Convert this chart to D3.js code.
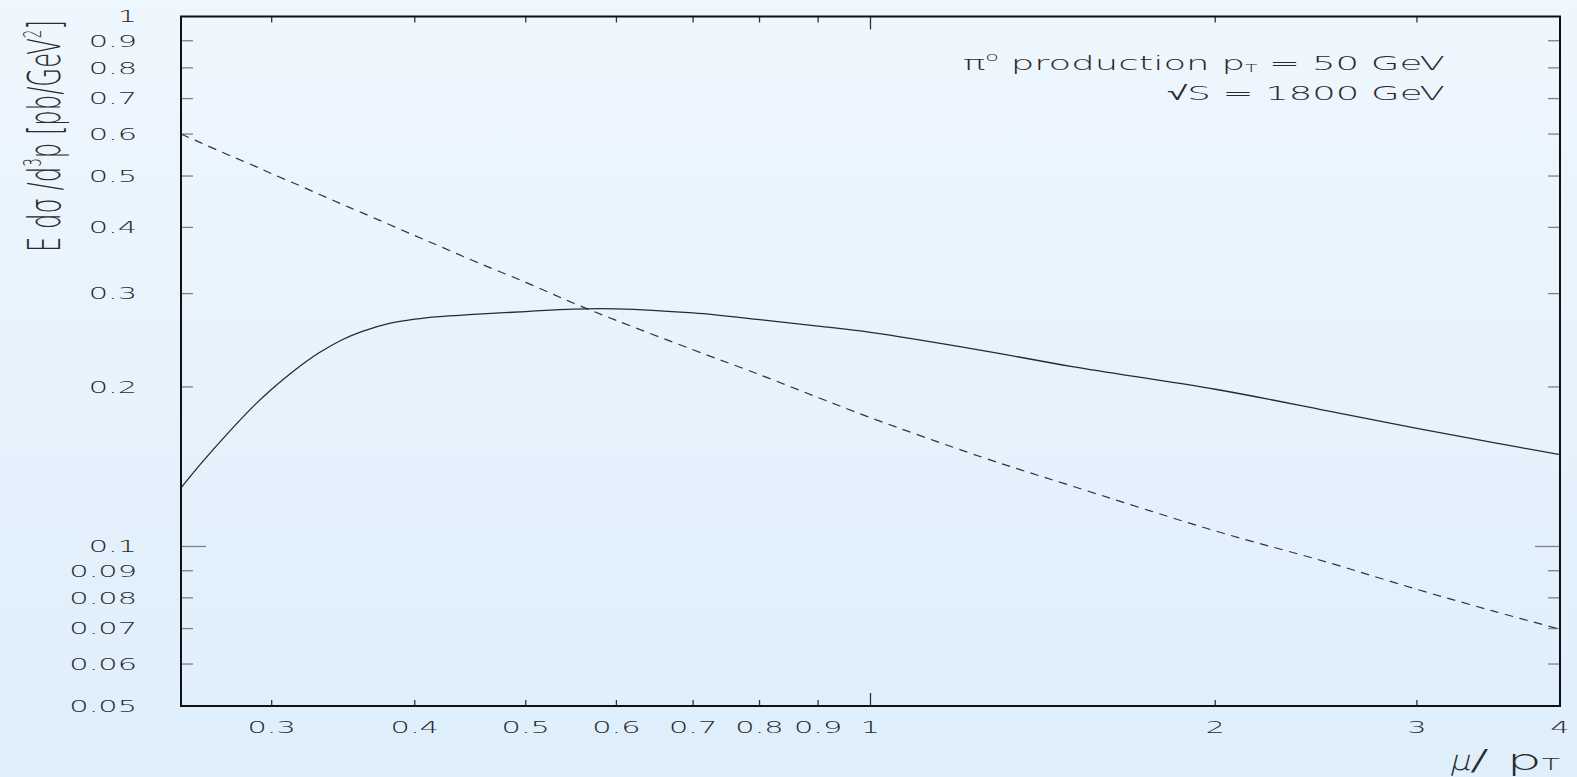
<!DOCTYPE html>
<html>
<head>
<meta charset="utf-8">
<script src="https://cdn.jsdelivr.net/npm/d3@7"></script>
<style>
  html, body { margin: 0; padding: 0; overflow: hidden; background: #e8f3fd; }
  svg { display: block; }
  text { font-family: "DejaVu Sans", sans-serif; fill: #2a2a2a; }
  .lbl { font-weight: 200; }
</style>
</head>
<body>
<svg id="chart" width="1577" height="777"></svg>
<script>
// Scale dependence of the pi0 cross section at pT = 50 GeV, sqrt(S) = 1800 GeV
const muOverPt = [0.25, 0.26, 0.275, 0.29, 0.3, 0.315, 0.33, 0.345, 0.36, 0.38, 0.4, 0.42, 0.45,
                  0.5, 0.55, 0.6, 0.7, 0.8, 0.9, 1, 1.25, 1.5, 2, 2.5, 3, 3.5, 4];
// solid curve
const xsecSolid = [0.129, 0.143, 0.164, 0.185, 0.198, 0.216, 0.232, 0.245, 0.2545, 0.2635, 0.2685, 0.2715, 0.274,
                   0.2775, 0.2805, 0.2808, 0.2758, 0.268, 0.2605, 0.2535, 0.2345, 0.2185, 0.198, 0.1805, 0.167, 0.157, 0.149];
// dashed curve
const xsecDashed = [0.600, 0.578, 0.548, 0.522, 0.505, 0.483, 0.462, 0.443, 0.426, 0.405, 0.386, 0.369, 0.346,
                    0.315, 0.288, 0.267, 0.235, 0.211, 0.191, 0.175, 0.1475, 0.130, 0.107, 0.0935, 0.083, 0.0755, 0.0698];

const xTickValues = [0.3, 0.4, 0.5, 0.6, 0.7, 0.8, 0.9, 1, 2, 3, 4];
const xTickLabels = ["0.3", "0.4", "0.5", "0.6", "0.7", "0.8", "0.9", "1", "2", "3", "4"];
const yTickValues = [0.05, 0.06, 0.07, 0.08, 0.09, 0.1, 0.2, 0.3, 0.4, 0.5, 0.6, 0.7, 0.8, 0.9, 1];
const yTickLabels = ["0.05", "0.06", "0.07", "0.08", "0.09", "0.1", "0.2", "0.3", "0.4", "0.5", "0.6", "0.7", "0.8", "0.9", "1"];
const xDomain = [0.25, 4];
const yDomain = [0.05, 1];

const W = 1577, H = 777;
const plot = { left: 181, right: 1560, top: 16.5, bottom: 706 };

const svg = d3.select("#chart");

// background wash
const defs = svg.append("defs");
const grad = defs.append("linearGradient").attr("id", "bg").attr("x1", 0).attr("y1", 0).attr("x2", 0).attr("y2", 1);
grad.append("stop").attr("offset", "0%").attr("stop-color", "#eff7fe");
grad.append("stop").attr("offset", "100%").attr("stop-color", "#deeefb");
svg.append("rect").attr("width", W).attr("height", H).attr("fill", "url(#bg)");

const x = d3.scaleLog().domain(xDomain).range([plot.left, plot.right]);
const y = d3.scaleLog().domain(yDomain).range([plot.bottom, plot.top]);

// ticks on all four sides
const tickG = svg.append("g");
const isLongY = v => Math.abs(v - 0.1) < 1e-9;
const isLongX = v => Math.abs(v - 1) < 1e-9;
yTickValues.filter(v => v > yDomain[0] && v < yDomain[1]).forEach(v => {
  const len = isLongY(v) ? 25 : 12;
  tickG.append("line").attr("x1", plot.left).attr("x2", plot.left + len)
    .attr("y1", y(v)).attr("y2", y(v)).attr("stroke", "#7d8285").attr("stroke-width", 1.3);
  tickG.append("line").attr("x1", plot.right).attr("x2", plot.right - len)
    .attr("y1", y(v)).attr("y2", y(v)).attr("stroke", "#7d8285").attr("stroke-width", 1.3);
});
xTickValues.filter(v => v > xDomain[0] && v < xDomain[1]).forEach(v => {
  const len = isLongX(v) ? 13 : 6;
  tickG.append("line").attr("x1", x(v)).attr("x2", x(v))
    .attr("y1", plot.bottom).attr("y2", plot.bottom - len).attr("stroke", "#333").attr("stroke-width", 1.3);
  tickG.append("line").attr("x1", x(v)).attr("x2", x(v))
    .attr("y1", plot.top).attr("y2", plot.top + len).attr("stroke", "#333").attr("stroke-width", 1.3);
});

// curves
const line = d3.line().x(d => x(d[0])).y(d => y(d[1])).curve(d3.curveCatmullRom.alpha(0.5));
const dashedPts = muOverPt.map((m, i) => [m, xsecDashed[i]]);
const solidPts = muOverPt.map((m, i) => [m, xsecSolid[i]]);
svg.append("path").attr("d", line(dashedPts)).attr("fill", "none")
  .attr("stroke", "#333").attr("stroke-width", 1.2).attr("stroke-dasharray", "8.5,6.5");
svg.append("path").attr("d", line(solidPts)).attr("fill", "none")
  .attr("stroke", "#2a2a2a").attr("stroke-width", 1.3);

// frame
svg.append("rect").attr("x", plot.left).attr("y", plot.top)
  .attr("width", plot.right - plot.left).attr("height", plot.bottom - plot.top)
  .attr("fill", "none").attr("stroke", "#111").attr("stroke-width", 2);

// tick labels (wide lettering)
const sx = 1.9;
const yLab = svg.append("g");
yTickValues.forEach((v, i) => {
  yLab.append("text").attr("class", "lbl")
    .attr("transform", `translate(137,${y(v) + 5.8}) scale(${sx},1)`)
    .attr("text-anchor", "end").attr("font-size", 16)
    .text(yTickLabels[i]);
});
const xLab = svg.append("g");
xTickValues.forEach((v, i) => {
  xLab.append("text").attr("class", "lbl")
    .attr("transform", `translate(${x(v)},733) scale(${sx},1)`)
    .attr("text-anchor", "middle").attr("font-size", 16)
    .text(xTickLabels[i]);
});

// stretch a text horizontally so that it spans `width` pixels
function fitWidth(g, width, pre) {
  const t = g.select("text");
  const natural = t.node().getComputedTextLength();
  g.attr("transform", `${pre} scale(${width / natural},1)`);
}

// y axis title
const ytG = svg.append("g");
const yt = ytG.append("text").attr("class", "lbl").attr("font-size", 45);
yt.append("tspan").text("E d\u03c3 /d");
yt.append("tspan").attr("font-size", 25).attr("dy", -19).text("3");
yt.append("tspan").attr("dy", 19).text("p [pb/GeV");
yt.append("tspan").attr("font-size", 25).attr("dy", -19).text("2");
yt.append("tspan").attr("dy", 19).text("]");
fitWidth(ytG, 232, "translate(60,252) rotate(-90)");

// x axis title
const muG = svg.append("g");
muG.append("text").attr("class", "lbl").attr("font-size", 28).text("\u03bc");
fitWidth(muG, 21, "translate(1449,770) skewX(-14)");
const xtG = svg.append("g");
const xt = xtG.append("text").attr("class", "lbl").attr("font-size", 28);
xt.append("tspan").text("/ p");
xt.append("tspan").attr("font-size", 15).text("T");
fitWidth(xtG, 90, "translate(1470,770)");

// annotation
const a1G = svg.append("g");
const a1 = a1G.append("text").attr("class", "lbl").attr("font-size", 20);
a1.append("tspan").text("\u03c0");
a1.append("tspan").attr("font-size", 12).attr("dy", -9).text("o");
a1.append("tspan").attr("dy", 9).text(" production p");
a1.append("tspan").attr("font-size", 11).attr("dy", 2).text("T");
a1.append("tspan").attr("dy", -2).text(" = 50 GeV");
fitWidth(a1G, 482, "translate(963,70)");

const a2G = svg.append("g");
a2G.append("text").attr("class", "lbl").attr("font-size", 20).text("\u221aS = 1800 GeV");
fitWidth(a2G, 278, "translate(1167,100)");
</script>
</body>
</html>
